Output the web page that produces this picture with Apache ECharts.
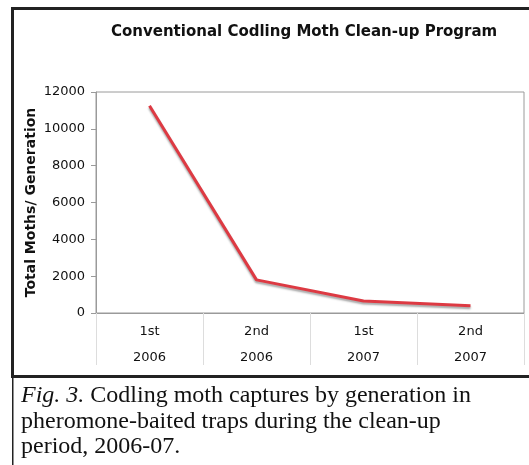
<!DOCTYPE html>
<html><head><meta charset="utf-8">
<script src="https://cdn.jsdelivr.net/npm/echarts@6/dist/echarts.min.js"></script>
<style>html,body{margin:0;padding:0;background:#fff}#c{width:529px;height:465px}</style>
</head><body><div id="c"></div>
<script>
const generations = ['1st', '2nd', '1st', '2nd'];
const years = ['2006', '2006', '2007', '2007'];
const moths = [11250, 1800, 650, 400];
const yTicks = {min: 0, max: 12000, interval: 2000};
const titleText = 'Conventional Codling Moth Clean-up Program';
const yName = 'Total Moths/ Generation';

const categories = generations.map((g, i) => g + '\n' + years[i]);
const chart = echarts.init(document.getElementById('c'), null, {renderer: 'canvas'});
chart.setOption({
  animation: false,
  backgroundColor: '#fff',
  title: {
    text: titleText, left: 106, top: 20,
    textStyle: {fontFamily: 'DejaVu Sans', fontWeight: 'bold', fontSize: 15, color: '#111'}
  },
  grid: {left: 96, right: 5, top: 92, bottom: 152, show: true, borderColor: '#9a9a9a', borderWidth: 1},
  xAxis: {
    type: 'category', data: categories, boundaryGap: true,
    axisLine: {show: true, lineStyle: {color: '#9a9a9a', width: 1}},
    axisTick: {show: true, interval: 0, length: 52, lineStyle: {color: '#dddddd'}},
    axisLabel: {
      interval: 0, margin: 6, fontFamily: 'DejaVu Sans', fontSize: 13, color: '#111', lineHeight: 26
    }
  },
  yAxis: {
    type: 'value', min: yTicks.min, max: yTicks.max, interval: yTicks.interval,
    name: yName, nameLocation: 'middle', nameGap: 58, nameRotate: 90, nameMoveOverlap: false,
    nameTextStyle: {fontFamily: 'DejaVu Sans', fontWeight: 'bold', fontSize: 14, color: '#111'},
    axisLine: {show: true, lineStyle: {color: '#9a9a9a'}},
    axisTick: {show: true, length: 5, lineStyle: {color: '#9a9a9a'}},
    splitLine: {show: false},
    axisLabel: {fontFamily: 'DejaVu Sans', fontSize: 13, color: '#111', margin: 11, formatter: v => String(v)}
  },
  series: [{
    type: 'line', data: moths, symbol: 'none', smooth: false,
    lineStyle: {color: '#dd3a43', width: 3, shadowColor: 'rgba(0,0,0,0.35)', shadowBlur: 2, shadowOffsetY: 2, shadowOffsetX: 0}
  }],
  graphic: [
    {type: 'rect', shape: {x: 11, y: 7, width: 530, height: 3}, style: {fill: '#222'}},
    {type: 'rect', shape: {x: 11, y: 7, width: 3, height: 370}, style: {fill: '#222'}},
    {type: 'rect', shape: {x: 11, y: 375, width: 530, height: 3}, style: {fill: '#222'}},
    {type: 'rect', shape: {x: 12, y: 377, width: 1.5, height: 90}, style: {fill: '#222'}},
    {type: 'text', left: 21, top: 383, style: {
      text: '{i|Fig. 3.} Codling moth captures by generation in\npheromone-baited traps during the clean-up\nperiod, 2006-07.',
      fontFamily: 'Liberation Serif', fontSize: 24, lineHeight: 25.5, fill: '#111',
      rich: {i: {fontFamily: 'Liberation Serif', fontStyle: 'italic', fontSize: 24, fill: '#111', lineHeight: 25.5}}
    }}
  ]
});
</script></body></html>
